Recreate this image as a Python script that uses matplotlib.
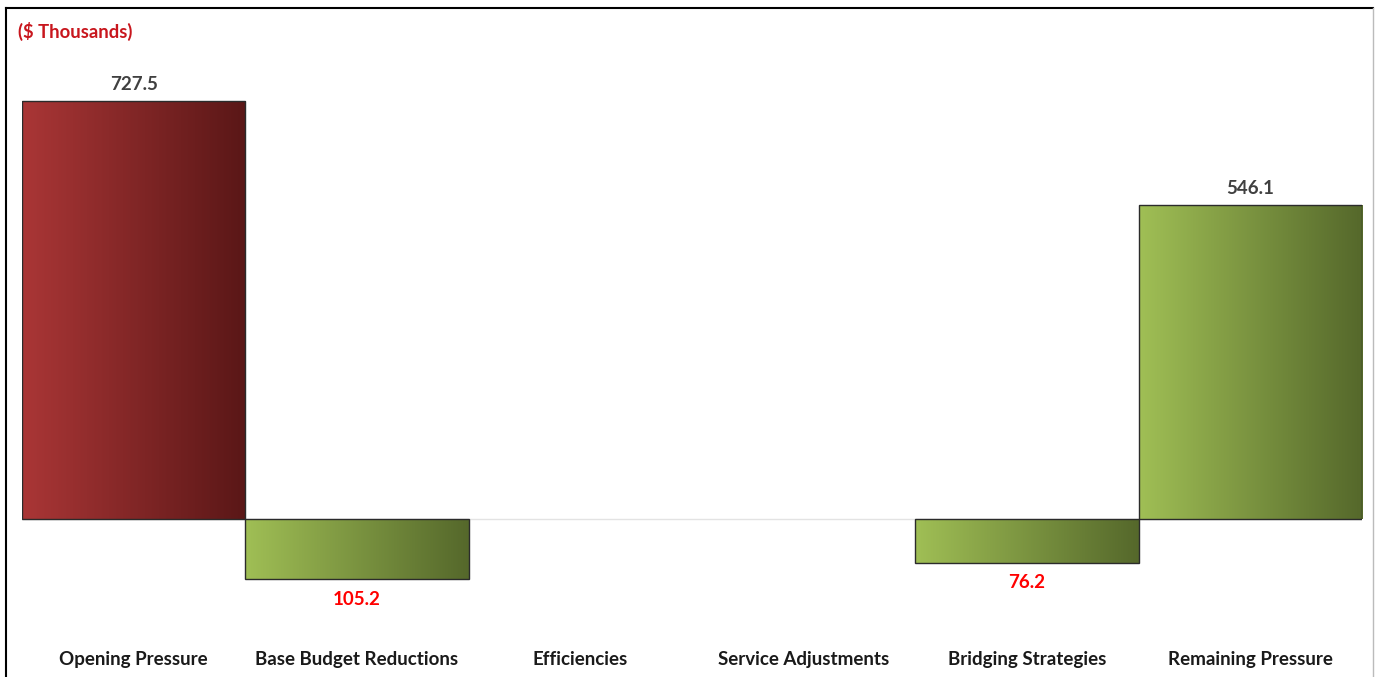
import matplotlib.pyplot as plt
import numpy as np
from matplotlib.colors import LinearSegmentedColormap
from matplotlib.patches import Rectangle

categories = ["Opening Pressure", "Base Budget Reductions", "Efficiencies",
              "Service Adjustments", "Bridging Strategies", "Remaining Pressure"]
values = [727.5, -105.2, 0.0, 0.0, -76.2, 546.1]
bar_kind = ["red", "green", "green", "green", "green", "green"]

red_cmap = LinearSegmentedColormap.from_list("red", ["#AA3636", "#5A1717"])
green_cmap = LinearSegmentedColormap.from_list("green", ["#A0BF55", "#55682B"])
cmaps = {"red": red_cmap, "green": green_cmap}

plt.rcParams["font.family"] = ["Lato", "DejaVu Sans"]

W, H = 1379, 677
fig = plt.figure(figsize=(W / 100, H / 100), dpi=100)

# axes placed so that 0 sits at y=519 px and 727.5 at y=101 px
ymin, ymax = -150, 800
scale = (519 - 101) / 727.5
top_px = 519 - ymax * scale
bot_px = 519 - ymin * scale
ax = fig.add_axes([22 / W, (H - bot_px) / H, 1340 / W, (bot_px - top_px) / H])
ax.set_xlim(-0.5, len(categories) - 0.5)
ax.set_ylim(ymin, ymax)

ax.axhline(0, color="#E3E3E3", lw=1, zorder=1)

grad = np.linspace(0, 1, 256).reshape(1, -1)
for i, (v, kind) in enumerate(zip(values, bar_kind)):
    if v == 0:
        continue
    lo, hi = min(0, v), max(0, v)
    rect = Rectangle((i - 0.5, lo), 1, hi - lo, facecolor="none",
                     edgecolor="#2B2B2B", lw=1.0, zorder=3)
    ax.add_patch(rect)
    im = ax.imshow(grad, cmap=cmaps[kind], aspect="auto",
                   extent=(i - 0.5, i + 0.5, lo, hi), zorder=2)
    im.set_clip_path(rect)
    if v > 0:
        ax.annotate(f"{v:.1f}", (i, v), xytext=(0, 6), textcoords="offset points",
                    ha="center", va="bottom", fontsize=13.5, fontweight="bold",
                    color="#404040")
    else:
        ax.annotate(f"{abs(v):.1f}", (i, v), xytext=(0, -8), textcoords="offset points",
                    ha="center", va="top", fontsize=13.5, fontweight="bold",
                    color="#FF0000")

ax.set_xticks(range(len(categories)))
ax.set_xticklabels(categories, fontsize=13.5, fontweight="bold", color="#1A1A1A")
ax.tick_params(axis="x", length=0, pad=33)
ax.set_yticks([])
for s in ax.spines.values():
    s.set_visible(False)

fig.text(18 / W, 1 - 31 / H, "($ Thousands)", fontsize=13.3, fontweight="bold",
         color="#C8161D", va="center", ha="left")

# outer frame of the picture
fig.add_artist(plt.Line2D([6 / W, 6 / W], [0, 1 - 8 / H], color="black", lw=1.5))
fig.add_artist(plt.Line2D([6 / W, 1373 / W], [1 - 8 / H, 1 - 8 / H], color="black", lw=1.5))
fig.add_artist(plt.Line2D([1373 / W, 1373 / W], [0, 1 - 8 / H], color="#BBBBBB", lw=1.0))

fig.savefig("out.png", dpi=100, facecolor="white")
